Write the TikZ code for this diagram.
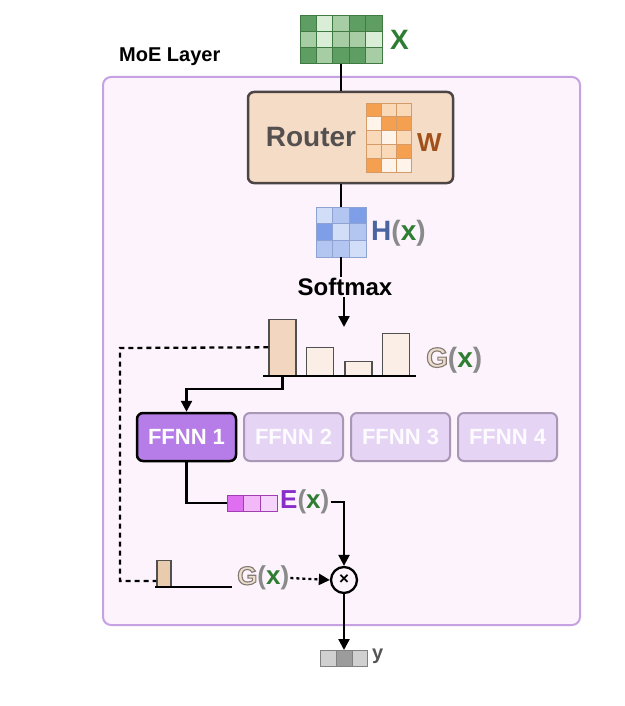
\documentclass[tikz,border=0pt]{standalone}
\usepackage{fontspec}
\setmainfont{Liberation Sans}
\usetikzlibrary{arrows.meta}

\definecolor{layeredge}{HTML}{C7A2E2}
\definecolor{layerfill}{HTML}{FCF3FC}
\definecolor{routerfill}{HTML}{F5DCC6}
\definecolor{routeredge}{HTML}{4D4545}
\definecolor{routertext}{HTML}{555050}
\definecolor{xd}{HTML}{5F9E62}
\definecolor{xm}{HTML}{A6CDA3}
\definecolor{xl}{HTML}{D9EDD7}
\definecolor{xedge}{HTML}{3F7A42}
\definecolor{wd}{HTML}{F5A050}
\definecolor{wm}{HTML}{FAD9B8}
\definecolor{wl}{HTML}{FFF4E9}
\definecolor{wedge}{HTML}{D49A68}
\definecolor{hd}{HTML}{7F9EE8}
\definecolor{hm}{HTML}{B2C6F1}
\definecolor{hl}{HTML}{D2DEF8}
\definecolor{hedge}{HTML}{8EA3D2}
\definecolor{ed}{HTML}{E06EF0}
\definecolor{em}{HTML}{F2B8F8}
\definecolor{el}{HTML}{F6D3FA}
\definecolor{eedge}{HTML}{A040B0}
\definecolor{yd}{HTML}{9C9C9C}
\definecolor{yl}{HTML}{D0D0D0}
\definecolor{yedge}{HTML}{808080}
\definecolor{gdark}{HTML}{F2D6BF}
\definecolor{glight}{HTML}{FBEEE6}
\definecolor{gsmall}{HTML}{E8CCAD}
\definecolor{baredge}{HTML}{505050}
\definecolor{gfill}{HTML}{ECDECE}
\definecolor{ffnnon}{HTML}{B67DE9}
\definecolor{ffnnoff}{HTML}{E6D4F5}
\definecolor{ffnnoffedge}{HTML}{AA97B6}
\definecolor{xgreen}{HTML}{2F7D32}
\definecolor{paren}{HTML}{8A8A8A}
\definecolor{hblue}{HTML}{4A64A0}
\definecolor{epurple}{HTML}{8A2EC8}
\definecolor{wbrown}{HTML}{A0501A}
\definecolor{ygray}{HTML}{555555}

\newcommand\fsz[1]{\fontsize{#1}{#1}\selectfont}
% hollow G: filled beige, stroked grey (text render mode 2)
\newcommand\hollowg{\textcolor{gfill}{\special{pdf:code 0.52 0.48 0.45 RG 1.1 w 2 Tr}G\special{pdf:code 0 Tr}}}
\newcommand\ofx{\textcolor{paren}{(}\textcolor{xgreen}{x}\textcolor{paren}{)}}

\begin{document}
\begin{tikzpicture}[x=1pt,y=-1pt,every node/.style={font=\bfseries,inner sep=1pt},
  wire/.style={line width=2.3pt},
  arr/.style={wire,-{Triangle[length=11pt,width=11pt]}},
  box/.style={inner sep=0pt,rounded corners=6pt},
  bar/.style={draw=baredge,line width=1.4pt,inner sep=0pt,minimum width=27,anchor=south},
  ffnnbox/.style={box,minimum width=99,minimum height=48,font=\bfseries\fsz{22}},
  lbl/.style={anchor=west,font=\bfseries\fsz{28}}]
\useasboundingbox[fill=white] (0,0) rectangle (624,706);

% layer frame
\node[box,draw=layeredge,fill=layerfill,line width=2pt,rounded corners=8pt,
  minimum width=477,minimum height=548,anchor=north west] (layer) at (102,76) {};
\node[anchor=west,font=\bfseries\fsz{20}] (layerlbl) at (118,57) {MoE Layer};

% input X
\foreach \row [count=\r from 0] in {{xd,xl,xm,xd,xd},{xm,xl,xm,xm,xl},{xd,xm,xd,xd,xm}}
  \foreach \c [count=\k from 0] in \row
    \draw[xedge,fill=\c,line width=.8pt] (300+16.4*\k,15+16.3*\r) rectangle ++(16.4,16.3);
\node[inner sep=0pt,minimum width=82,minimum height=49,anchor=north west] (xmat) at (300,15) {};
\node[lbl,text=xgreen] (xlbl) at (389,40) {X};

% router
\node[box,draw=routeredge,fill=routerfill,line width=2.5pt,minimum width=205,minimum height=91] (router) at (350.5,137.5) {};
\node[text=routertext,font=\bfseries\fsz{28}] (routerlbl) at (311,137) {Router};
\foreach \row [count=\r from 0] in {{wd,wm,wm},{wl,wd,wd},{wm,wl,wm},{wm,wm,wd},{wd,wl,wl}}
  \foreach \c [count=\k from 0] in \row
    \draw[wedge,fill=\c,line width=.7pt] (366+15*\k,103+13.8*\r) rectangle ++(15,13.8);
\node[lbl,text=wbrown,font=\bfseries\fsz{26}] (wlbl) at (416,143) {W};
\draw[wire] (xmat.south) -- (xmat.south |- router.north);

% hidden state H(x)
\foreach \row [count=\r from 0] in {{hl,hm,hd},{hd,hl,hm},{hm,hm,hl}}
  \foreach \c [count=\k from 0] in \row
    \draw[hedge,fill=\c,line width=.7pt] (316+16.7*\k,207+16.7*\r) rectangle ++(16.7,16.7);
\node[inner sep=0pt,minimum width=50,minimum height=50,anchor=north west] (hmat) at (316,207) {};
\node[lbl] (hlbl) at (370,233) {\textcolor{hblue}{H}\ofx};
\draw[wire] (hmat.north |- router.south) -- (hmat.north);

% softmax and gate values
\node[font=\bfseries\fsz{24}] (softmax) at (345,287) {Softmax};
\draw[wire] (hmat.south) -- (hmat.south |- softmax.north);
\coordinate (gtop) at (344,327);
\draw[arr] (gtop |- softmax.south) -- (gtop);
\node[bar,fill=gdark,minimum height=56] (bar1) at (282.5,376) {};
\node[bar,fill=glight,minimum height=28] (bar2) at (320,376) {};
\node[bar,fill=glight,minimum height=14] (bar3) at (358.5,376) {};
\node[bar,fill=glight,minimum height=42] (bar4) at (396,376) {};
\draw[line width=2.6pt] (263,376) -- (416,376);
\node[lbl] (glbl) at (425,360) {\hollowg\ofx};

% experts
\node[ffnnbox,draw=black,fill=ffnnon,line width=2.5pt,text=white] (ffnn1) at (186.5,437) {FFNN 1};
\foreach \i/\cx in {2/293.5,3/400.5,4/507.5}
  \node[ffnnbox,draw=ffnnoffedge,fill=ffnnoff,line width=2pt,text=white!90!ffnnoff] (ffnn\i) at (\cx,437) {FFNN \i};
\draw[arr] (bar1.south) -- ++(0,13) -| (ffnn1.north);

% expert output E(x)
\foreach \c [count=\k from 0] in {ed,em,el}
  \draw[eedge,fill=\c,line width=.8pt] (227+16.7*\k,495) rectangle ++(16.7,16);
\node[inner sep=0pt,minimum width=50,minimum height=16,anchor=north west] (evec) at (227,495) {};
\node[lbl,font=\bfseries\fsz{26}] (elbl) at (279,502) {\textcolor{epurple}{E}\ofx};
\draw[wire] (ffnn1.south) |- (evec.west);

% weighting
\node[circle,draw,line width=2.3pt,minimum size=26,inner sep=0pt,font=\bfseries\fsz{17}] (mult) at (344,580) {×};
\draw[arr] (elbl.east) -| (mult.north);
\node[bar,fill=gsmall,minimum width=14,minimum height=26] (gbar) at (164,587) {};
\draw[line width=2.6pt] (155,587) -- (232,587);
\node[lbl,font=\bfseries\fsz{26}] (glbl2) at (236,578) {\hollowg\ofx};
\draw[wire,dash pattern=on 5pt off 4pt] (bar1.west) -- (120,348) |- ([yshift=6pt]gbar.south west);
\draw[arr,dash pattern=on 3pt off 3pt] (glbl2.east) -- (mult.west);

% output y
\foreach \c [count=\k from 0] in {yl,yd,yl}
  \draw[yedge,fill=\c,line width=.8pt] (320.5+15.7*\k,650) rectangle ++(15.7,16);
\node[inner sep=0pt,minimum width=47,minimum height=16,anchor=north west] (yvec) at (320.5,650) {};
\node[anchor=west,text=ygray,font=\bfseries\fsz{20}] (ylbl) at (371,656) {y};
\draw[arr] (mult.south) -- (mult.south |- yvec.north);
\end{tikzpicture}
\end{document}
